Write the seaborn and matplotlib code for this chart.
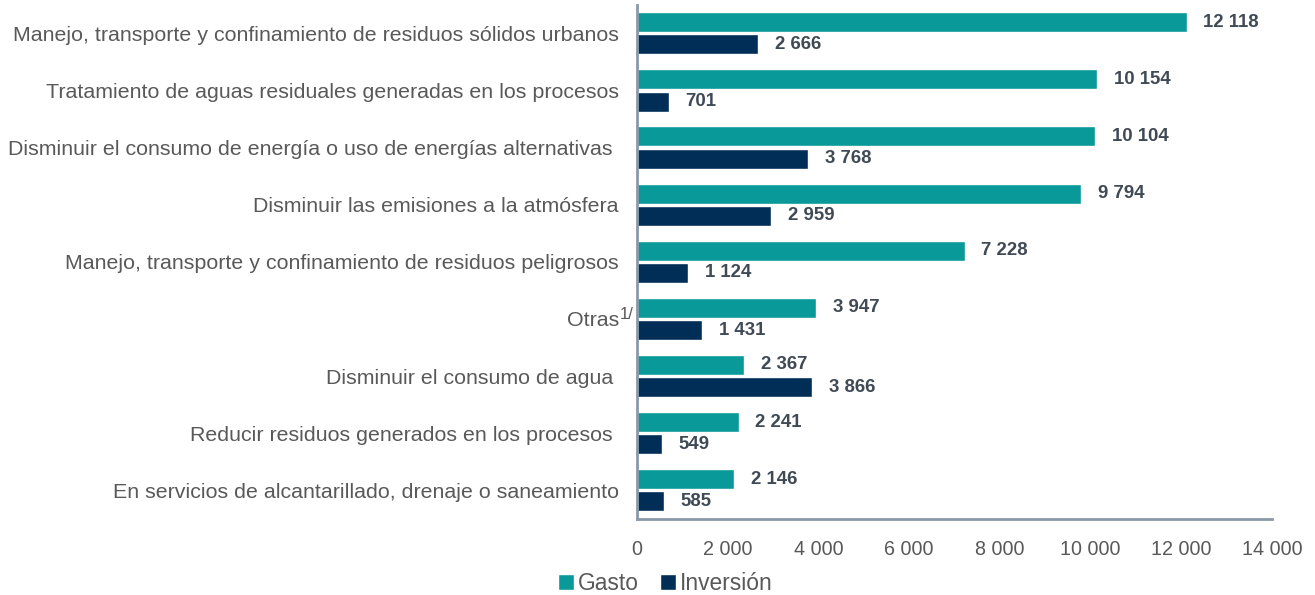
import seaborn as sns
import matplotlib.pyplot as plt
import matplotlib.transforms as mtransforms
import pandas as pd

categorias = [
    "Manejo, transporte y confinamiento de residuos sólidos urbanos",
    "Tratamiento de aguas residuales generadas en los procesos",
    "Disminuir el consumo de energía o uso de energías alternativas ",
    "Disminuir las emisiones a la atmósfera",
    "Manejo, transporte y confinamiento de residuos peligrosos",
    "Otras",
    "Disminuir el consumo de agua ",
    "Reducir residuos generados en los procesos ",
    "En servicios de alcantarillado, drenaje o saneamiento",
]
gasto = [12118, 10154, 10104, 9794, 7228, 3947, 2367, 2241, 2146]
inversion = [2666, 701, 3768, 2959, 1124, 1431, 3866, 549, 585]
xticks = [0, 2000, 4000, 6000, 8000, 10000, 12000, 14000]

df = pd.DataFrame({
    "categoria": categorias * 2,
    "valor": gasto + inversion,
    "tipo": ["Gasto"] * len(gasto) + ["Inversión"] * len(inversion),
})

sns.set_style("white")
plt.rcParams["font.family"] = ["Liberation Sans", "DejaVu Sans"]

gris = "#595959"
eje = "#8A99A8"
colores = {"Gasto": "#0A9999", "Inversión": "#002E56"}

fig = plt.figure(figsize=(13.15, 5.95), dpi=100)
ax = fig.add_axes([0.4844, 0.128, 0.4828, 0.864])
sns.barplot(data=df, y="categoria", x="valor", hue="tipo", palette=colores,
            order=categorias, hue_order=["Gasto", "Inversión"], saturation=1,
            width=0.78, gap=0.1, orient="h", ax=ax, legend=True)

fmt = lambda v: f"{v:,.0f}".replace(",", " ")
for cont in ax.containers:
    ax.bar_label(cont, labels=[fmt(v) for v in cont.datavalues], padding=12,
                 fontsize=13.4, fontweight="bold", color="#404A55")

ax.set_xlim(0, 14000)
ax.set_xticks(xticks)
ax.set_xticklabels([fmt(v) for v in xticks])
ax.set_ylim(len(categorias) - 0.5, -0.5)
ax.set_xlabel("")
ax.set_ylabel("")
ax.tick_params(axis="y", length=0, pad=13, labelsize=15.4, labelcolor=gris)
ax.tick_params(axis="x", length=0, pad=15, labelsize=14.2, labelcolor=gris)
for s in ["top", "right"]:
    ax.spines[s].set_visible(False)
for s in ["left", "bottom"]:
    ax.spines[s].set_color(eje)
    ax.spines[s].set_linewidth(2)

# llamada de nota "1/" junto a "Otras"
trans = mtransforms.blended_transform_factory(ax.transAxes, ax.transData)
ax.text(-0.027, categorias.index("Otras") - 0.07, "1/", transform=trans,
        fontsize=12, color=gris, ha="left", va="center")

ax.legend_.remove()
handles, labels = ax.get_legend_handles_labels()
fig.legend(handles, labels, loc="lower center", bbox_to_anchor=(0.506, -0.035),
           ncol=2, frameon=False, fontsize=16.4, labelcolor=gris,
           handlelength=0.7, handleheight=0.7, handletextpad=0.2,
           columnspacing=0.9)

plt.savefig("out.png", dpi=100)
plt.close()
